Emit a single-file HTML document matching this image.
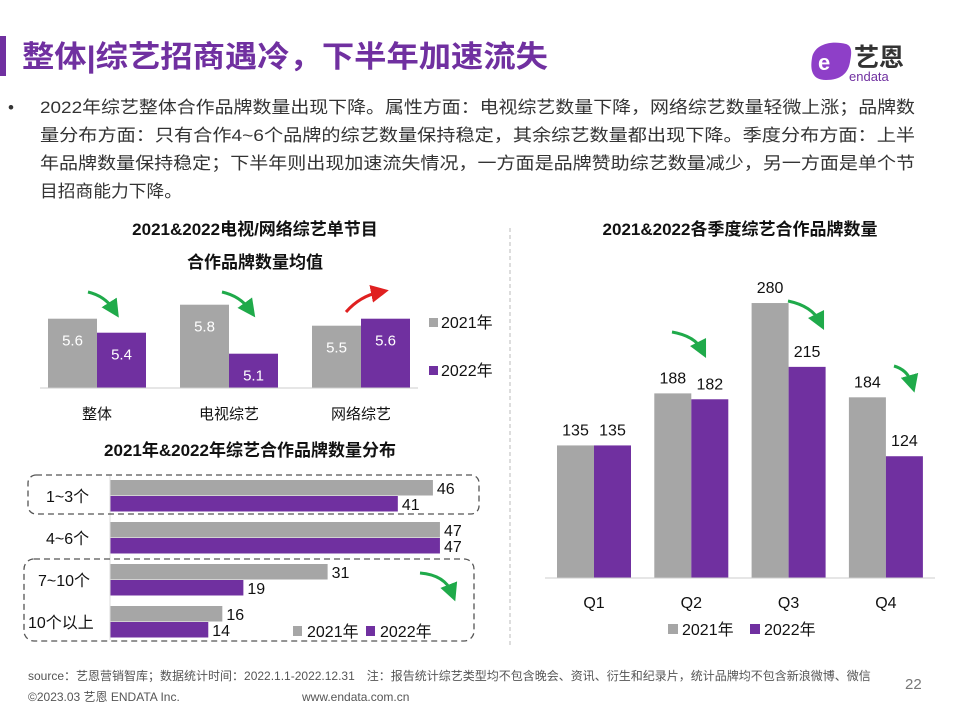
<!DOCTYPE html>
<html><head><meta charset="utf-8">
<style>
body{margin:0;width:960px;height:720px;background:#fff;overflow:hidden;font-family:"Liberation Sans","Noto Sans CJK SC",sans-serif;}
svg text{font-family:"Liberation Sans","Noto Sans CJK SC",sans-serif;}
</style></head>
<body>
<svg id="s" width="960" height="720" viewBox="0 0 960 720">
<rect x="0" y="36" width="6" height="40" fill="#7030a0"/>
<text x="22" y="67" font-size="30" font-weight="bold" fill="#7030a0" textLength="526" lengthAdjust="spacingAndGlyphs">整体|综艺招商遇冷，下半年加速流失</text>
<g>
<path d="M812,58 C814,45 830,40 846,44 C852,46 852,52 850,62 C848,74 840,80 826,80 C812,80 810,70 812,58Z" fill="#8e3fc8"/>
<text x="818" y="70" font-size="22" font-weight="bold" fill="#fff">e</text>
<text x="854" y="66" font-size="25" font-weight="bold" fill="#333">艺恩</text>
<text x="849" y="81" font-size="13" fill="#7030a0">endata</text>
</g>
<g font-size="17" fill="#333">
<text x="8" y="113">•</text>
<text x="40" y="113" textLength="875" lengthAdjust="spacingAndGlyphs">2022年综艺整体合作品牌数量出现下降。属性方面：电视综艺数量下降，网络综艺数量轻微上涨；品牌数</text>
<text x="40" y="141" textLength="875" lengthAdjust="spacingAndGlyphs">量分布方面：只有合作4~6个品牌的综艺数量保持稳定，其余综艺数量都出现下降。季度分布方面：上半</text>
<text x="40" y="169" textLength="875" lengthAdjust="spacingAndGlyphs">年品牌数量保持稳定；下半年则出现加速流失情况，一方面是品牌赞助综艺数量减少，另一方面是单个节</text>
<text x="40" y="197" textLength="142" lengthAdjust="spacingAndGlyphs">目招商能力下降。</text>
</g>
<line x1="510" y1="228" x2="510" y2="645" stroke="#bbb" stroke-dasharray="4,3"/>
<g font-size="17" font-weight="bold" fill="#111" text-anchor="middle">
<text x="255" y="235">2021&amp;2022电视/网络综艺单节目</text>
<text x="255" y="268">合作品牌数量均值</text>
<text x="250" y="456">2021年&amp;2022年综艺合作品牌数量分布</text>
<text x="740" y="235">2021&amp;2022各季度综艺合作品牌数量</text>
</g>
<g id="c1"></g><g id="c2"></g><g id="c3"></g>
<g fill="none" stroke="#555" stroke-dasharray="6,4" stroke-width="1.3">
<rect x="28" y="475" width="451" height="39" rx="8"/>
<rect x="24" y="559" width="450" height="82" rx="10"/>
</g>
<defs>
<marker id="ag" markerWidth="6" markerHeight="6" refX="3" refY="3" orient="auto"><path d="M0,0L6,3L0,6Z" fill="#1faa4a"/></marker>
<marker id="ar" markerWidth="6" markerHeight="6" refX="3" refY="3" orient="auto"><path d="M0,0L6,3L0,6Z" fill="#e02020"/></marker>
</defs>
<g fill="none" stroke-width="3">
<path d="M88,292 Q105,296 114,310" stroke="#1faa4a" marker-end="url(#ag)"/>
<path d="M222,292 Q240,296 250,310" stroke="#1faa4a" marker-end="url(#ag)"/>
<path d="M346,312 Q360,296 380,292" stroke="#e02020" marker-end="url(#ar)"/>
<path d="M420,573 Q445,575 452,593" stroke="#1faa4a" marker-end="url(#ag)"/>
<path d="M672,332 Q695,336 702,350" stroke="#1faa4a" marker-end="url(#ag)"/>
<path d="M788,301 Q812,306 820,322" stroke="#1faa4a" marker-end="url(#ag)"/>
<path d="M894,366 Q908,370 912,384" stroke="#1faa4a" marker-end="url(#ag)"/>
</g>
<g font-size="12" fill="#555">
<text x="28" y="680">source：艺恩营销智库；数据统计时间：2022.1.1-2022.12.31　注：报告统计综艺类型均不包含晚会、资讯、衍生和纪录片，统计品牌均不包含新浪微博、微信</text>
<text x="28" y="701">©2023.03 艺恩 ENDATA Inc.</text>
<text x="302" y="701">www.endata.com.cn</text>
<text x="905" y="689" font-size="15" fill="#777">22</text>
</g>
</svg>
<script>
const NS="http://www.w3.org/2000/svg";
const GRAY="#a6a6a6",PURP="#7030a0";
// chart 1
const c1Cats=["整体","电视综艺","网络综艺"];
const c1V2021=[5.6,5.8,5.5];
const c1V2022=[5.4,5.1,5.6];
// chart 2
const c2Cats=["1~3个","4~6个","7~10个","10个以上"];
const c2V2021=[46,47,31,16];
const c2V2022=[41,47,19,14];
// chart 3
const c3Cats=["Q1","Q2","Q3","Q4"];
const c3V2021=[135,188,280,184];
const c3V2022=[135,182,215,124];
const legendLabels=["2021年","2022年"];

function mk(p,tag,at,txt){const e=document.createElementNS(NS,tag);for(const k in at)e.setAttribute(k,at[k]);if(txt!==undefined)e.textContent=txt;p.appendChild(e);return e;}

// chart1
(function(){
const g=document.getElementById('c1');
const base=388,min=4.61,k=70;
const y=v=>base-(v-min)*k;
c1Cats.forEach((c,i)=>{
 const x0=48+i*132;
 [[c1V2021[i],GRAY,'2021'],[c1V2022[i],PURP,'2022']].forEach((d,j)=>{
  const r=mk(g,'rect',{x:x0+j*49,y:y(d[0]),width:49,height:base-y(d[0]),fill:d[1]});
  
  
  const t=mk(g,'text',{x:x0+j*49+24.5,y:y(d[0])+27,'font-size':15,fill:'#fff','text-anchor':'middle'},d[0].toFixed(1));
  
  
 });
 const t=mk(g,'text',{x:x0+49,y:419,'font-size':15,fill:'#111','text-anchor':'middle'},c);
 
 
});
const ax=mk(g,'line',{x1:40,x2:418,y1:base,y2:base,stroke:'#ccc'});


[[GRAY,322],[PURP,370]].forEach((d,j)=>{
 const r=mk(g,'rect',{x:429,y:d[1]-4,width:9,height:9,fill:d[0]});
 
 
 const t=mk(g,'text',{x:441,y:d[1]+6,'font-size':16,fill:'#111'},legendLabels[j]);
 
 
});
})();

// chart2
(function(){
const g=document.getElementById('c2');
const x0=110,k=7.02;
c2Cats.forEach((c,i)=>{
 const yt=480+i*42;
 [[c2V2021[i],GRAY,'2021'],[c2V2022[i],PURP,'2022']].forEach((d,j)=>{
  const r=mk(g,'rect',{x:x0,y:yt+j*16,width:d[0]*k,height:15.5,fill:d[1]});
  
  
  const t=mk(g,'text',{x:x0+d[0]*k+4,y:yt+j*16+14,'font-size':16,fill:'#111'},d[0]);
  
  
 });
 const t=mk(g,'text',{x:i==3?28:(i==2?38:46),y:yt+22,'font-size':16,fill:'#111'},c);
 
 
});
const ax=mk(g,'line',{x1:x0,x2:x0,y1:475,y2:640,stroke:'#ddd'});


[[GRAY,293],[PURP,366]].forEach((d,j)=>{
 const r=mk(g,'rect',{x:d[1],y:626,width:9,height:10,fill:d[0]});
 
 
 const t=mk(g,'text',{x:d[1]+14,y:637,'font-size':16,fill:'#111'},legendLabels[j]);
 
 
});
})();

// chart3
(function(){
const g=document.getElementById('c3');
const base=578,k=0.982;
const y=v=>base-v*k;
c3Cats.forEach((c,i)=>{
 const x0=557+i*97.3;
 [[c3V2021[i],GRAY,'2021'],[c3V2022[i],PURP,'2022']].forEach((d,j)=>{
  const r=mk(g,'rect',{x:x0+j*37,y:y(d[0]),width:37,height:d[0]*k,fill:d[1]});
  
  
  const t=mk(g,'text',{x:x0+j*37+18.5,y:y(d[0])-10,'font-size':16,fill:'#111','text-anchor':'middle'},d[0]);
  
  
 });
 const t=mk(g,'text',{x:x0+37,y:608,'font-size':16,fill:'#111','text-anchor':'middle'},c);
 
 
});
const ax=mk(g,'line',{x1:545,x2:935,y1:base,y2:base,stroke:'#ccc'});


[[GRAY,668],[PURP,750]].forEach((d,j)=>{
 const r=mk(g,'rect',{x:d[1],y:624,width:10,height:10,fill:d[0]});
 
 
 const t=mk(g,'text',{x:d[1]+14,y:635,'font-size':16,fill:'#111'},legendLabels[j]);
 
 
});
})();
</script>
</body></html>
